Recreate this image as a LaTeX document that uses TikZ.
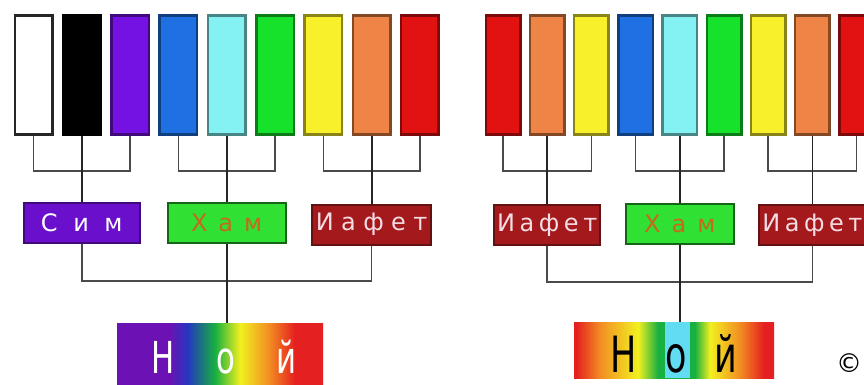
\documentclass[tikz,border=0pt]{standalone}
\usepackage{fontspec}
\setmainfont{DejaVu Sans}
\newfontfamily\noyfont[FakeStretch=0.7]{DejaVu Sans}
\usepackage{xcolor}
\usepackage{tikz}
\usetikzlibrary{positioning}

\definecolor{cviol}{HTML}{7412E4}
\definecolor{cblue}{HTML}{1F70E2}
\definecolor{ccyan}{HTML}{84F2F2}
\definecolor{cgreen}{HTML}{16E22C}
\definecolor{cyell}{HTML}{F8F02A}
\definecolor{corange}{HTML}{EE8446}
\definecolor{cred}{HTML}{E21212}
\definecolor{simfill}{HTML}{6A10CC}
\definecolor{hamfill}{HTML}{30E032}
\definecolor{hamtext}{HTML}{C8681C}
\definecolor{iaffill}{HTML}{A41A1C}
\definecolor{iaftext}{HTML}{F4DCE4}
\definecolor{wirec}{HTML}{4A4A4A}
\definecolor{nviol}{HTML}{6C12B4}
\definecolor{nblue}{HTML}{2438C0}
\definecolor{ngreen}{HTML}{18B040}
\definecolor{nyell}{HTML}{F2F020}
\definecolor{norange}{HTML}{F29022}
\definecolor{nred}{HTML}{E42020}
\definecolor{nstripe}{HTML}{62DCF2}

\pgfdeclarehorizontalshading{noyleft}{100bp}{color(0bp)=(nviol); color(25bp)=(nviol);
  color(37.9bp)=(nviol); color(42.2bp)=(nblue); color(48.8bp)=(ngreen); color(54.9bp)=(nyell);
  color(61.7bp)=(norange); color(68.2bp)=(nred); color(75bp)=(nred); color(100bp)=(nred)}
\pgfdeclarehorizontalshading{noyright}{100bp}{color(0bp)=(nred); color(25.5bp)=(nred);
  color(31.7bp)=(norange); color(41bp)=(nyell); color(46bp)=(ngreen); color(55.2bp)=(ngreen);
  color(59bp)=(nyell); color(66.3bp)=(norange); color(72.5bp)=(nred); color(100bp)=(nred)}

\begin{document}
\begin{tikzpicture}[x=1pt, y=-1pt,
    bar/.style={draw=#1!55!black, fill=#1, line width=2.5, inner sep=0,
      minimum height=118.5},
    lbar/.style={bar=#1, minimum width=37.5},
    rbar/.style={bar=#1, minimum width=34.5},
    tag/.style={line width=2, inner sep=0, minimum height=40,
      font=\fontsize{24}{24}\selectfont},
    wire/.style={draw=wirec, line width=1.5},
    trunk/.style={draw=black!85, line width=1.8},
    noy/.style={anchor=north, inner xsep=0, text depth=0pt}]
  \clip (0,0) rectangle (864,385);
  \fill[white] (0,0) rectangle (864,385);

  \node[lbar=white, draw=black!85] (l1) at (33.5,75) {};
  \node[lbar=black] (l2) at (81.8,75) {};
  \node[lbar=cviol] (l3) at (130.1,75) {};
  \node[lbar=cblue] (l4) at (178.4,75) {};
  \node[lbar=ccyan] (l5) at (226.7,75) {};
  \node[lbar=cgreen] (l6) at (275.0,75) {};
  \node[lbar=cyell] (l7) at (323.3,75) {};
  \node[lbar=corange] (l8) at (371.6,75) {};
  \node[lbar=cred] (l9) at (419.9,75) {};

  \node[rbar=cred] (r1) at (503.0,75) {};
  \node[rbar=corange] (r2) at (547.2,75) {};
  \node[rbar=cyell] (r3) at (591.4,75) {};
  \node[rbar=cblue] (r4) at (635.6,75) {};
  \node[rbar=ccyan] (r5) at (679.8,75) {};
  \node[rbar=cgreen] (r6) at (724.0,75) {};
  \node[rbar=cyell] (r7) at (768.2,75) {};
  \node[rbar=corange] (r8) at (812.4,75) {};
  \node[rbar=cred] (r9) at (856.6,75) {};

  \node[tag, draw=simfill!60!black, fill=simfill, text=white, minimum width=116] (sim) at (81.8,223)
    {\addfontfeature{LetterSpace=65}Сим};
  \node[tag, draw=hamfill!45!black, fill=hamfill, text=hamtext, minimum width=118] (ham) at (226.7,223)
    {\addfontfeature{LetterSpace=46}Хам};
  \node[tag, draw=iaffill!60!black, fill=iaffill, text=iaftext, minimum width=119] (iafl) at (371.6,224.5)
    {\addfontfeature{LetterSpace=31}Иафет};

  \node[tag, draw=iaffill!60!black, fill=iaffill, text=iaftext, minimum width=106] (iafr) at (547.2,225)
    {\addfontfeature{LetterSpace=19}Иафет};
  \node[tag, draw=hamfill!45!black, fill=hamfill, text=hamtext, minimum width=108] (hamr) at (679.8,224)
    {\addfontfeature{LetterSpace=46}Хам};
  \node[tag, draw=iaffill!60!black, fill=iaffill, text=iaftext, minimum width=106] (iafrr) at (812.4,225)
    {\addfontfeature{LetterSpace=19}Иафет};

  \node[noy, shading=noyleft, minimum width=206, inner ysep=12, text height=38, text=white,
    font=\noyfont\fontsize{44}{44}\selectfont] (noyl) at (220,323)
    {\hspace*{8pt}\addfontfeature{LetterSpace=95}Ной};
  \node[noy, shading=noyright, minimum width=200, inner ysep=6, text height=44, text=black,
    font=\noyfont\fontsize{50}{50}\selectfont,
    path picture={\fill[nstripe] ([xshift=-9pt]path picture bounding box.north)
      rectangle ([xshift=16pt]path picture bounding box.south);}] (noyr) at (674,322)
    {\addfontfeature{LetterSpace=56}Ной};

  \node[font=\fontsize{26}{26}\selectfont] (copy) at (849,363) {©};

  \coordinate (lj1) at (81.8,171);
  \coordinate (lj2) at (226.7,171);
  \coordinate (lj3) at (371.6,171);
  \coordinate (rj1) at (547.2,171);
  \coordinate (rj2) at (679.8,171);
  \coordinate (rj3) at (812.4,171);
  \coordinate (lk) at (226.7,281);
  \coordinate (rk) at (679.8,282);

  \draw[wire] (l1.south) |- (lj1) -| (l3.south);
  \draw[wire] (l4.south) |- (lj2) -| (l6.south);
  \draw[wire] (l7.south) |- (lj3) -| (l9.south);
  \draw[trunk] (l2.south) -- (sim.north);
  \draw[trunk] (l5.south) -- (ham.north);
  \draw[trunk] (l8.south) -- (iafl.north);
  \draw[wire] (r1.south) |- (rj1) -| (r3.south);
  \draw[wire] (r4.south) |- (rj2) -| (r6.south);
  \draw[wire] (r7.south) |- (rj3) -| (r9.south);
  \draw[trunk] (r2.south) -- (iafr.north);
  \draw[trunk] (r5.south) -- (hamr.north);
  \draw[trunk] (r8.south) -- (iafrr.north);

  \draw[wire] (sim.south) |- (lk) -| (iafl.south);
  \draw[trunk] (ham.south) -- (ham.south |- noyl.north);
  \draw[wire] (iafr.south) |- (rk) -| (iafrr.south);
  \draw[trunk] (hamr.south) -- (hamr.south |- noyr.north);
\end{tikzpicture}
\end{document}
